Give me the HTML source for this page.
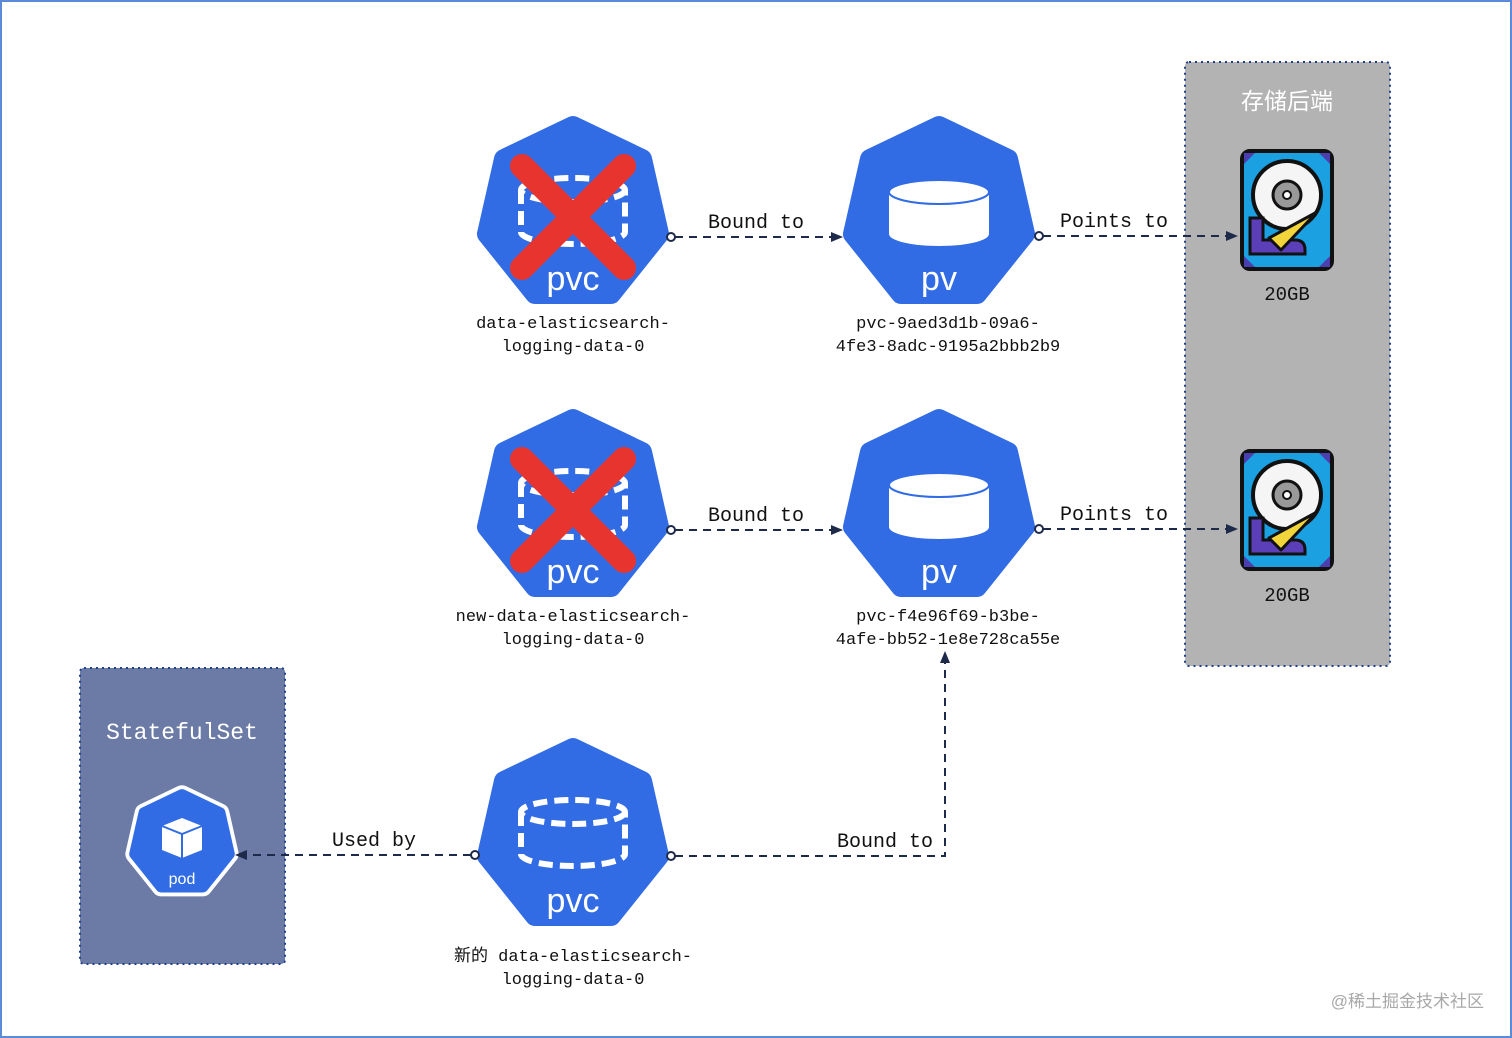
<!DOCTYPE html>
<html><head><meta charset="utf-8"><style>
html,body{margin:0;padding:0;background:#fff;}
svg{display:block}
.m{font-family:"Liberation Mono","Noto Sans CJK SC",monospace;}
.s{font-family:"Liberation Sans","Noto Sans CJK SC",sans-serif;}
</style></head><body>
<svg width="1512" height="1038" viewBox="0 0 1512 1038" xmlns="http://www.w3.org/2000/svg">
<defs>
<polygon id="hep" points="0,-88 69,-55 86,20 38,80 -38,80 -86,20 -69,-55" fill="#326ce5" stroke="#326ce5" stroke-width="20" stroke-linejoin="round"/>
<marker id="ar" markerWidth="12" markerHeight="10" refX="11" refY="5" orient="auto" markerUnits="userSpaceOnUse"><path d="M0,0 L12,5 L0,10 Z" fill="#1e2a4a"/></marker>
<g id="pvicon">
<path d="M-50,-22 L-50,20 A50,12 0 0 0 50,20 L50,-22 Z" fill="#fff"/>
<ellipse cx="0" cy="-22" rx="50" ry="12" fill="#fff" stroke="#326ce5" stroke-width="2"/>
<text x="0" y="76" text-anchor="middle" class="s" style="font-size:34px" fill="#fff">pv</text>
</g>
<g id="pvcicon">
<ellipse cx="0" cy="-24" rx="52" ry="12" fill="none" stroke="#fff" stroke-width="6" stroke-dasharray="14 7"/>
<path d="M-52,-24 L-52,18 A52,12 0 0 0 52,18 L52,-24" fill="none" stroke="#fff" stroke-width="6" stroke-dasharray="14 7"/>
<text x="0" y="76" text-anchor="middle" class="s" style="font-size:34px" fill="#fff">pvc</text>
</g>
<g id="disk">
<rect x="-45" y="-59" width="90" height="118" rx="8" fill="#1ba1e2" stroke="#111" stroke-width="4"/>
<path d="M-43,-57 L-32,-57 L-43,-46Z M43,-57 L32,-57 L43,-46Z M-43,57 L-32,57 L-43,46Z M43,57 L32,57 L43,46Z" fill="#4b3fb0"/>
<circle cx="0" cy="-15" r="34" fill="#f5f5f5" stroke="#111" stroke-width="4"/>
<circle cx="0" cy="-15" r="14" fill="#999" stroke="#111" stroke-width="3"/>
<circle cx="0" cy="-15" r="4" fill="#fff" stroke="#111" stroke-width="2"/>
<path d="M-37,8 L-24,8 L-24,30 L8,30 Q18,30 18,40 L18,44 L-37,44Z" fill="#5b3fb8" stroke="#111" stroke-width="3"/>
<path d="M30,2 L-18,28 L-6,40 Z" fill="#f2d43b" stroke="#111" stroke-width="3" stroke-linejoin="round"/>
</g>
</defs>
<rect x="1" y="1" width="1510" height="1036" fill="#fff" stroke="#5b8bd6" stroke-width="2"/>

<rect x="1185" y="62" width="205" height="604" rx="4" fill="#b3b3b3" stroke="#1f3f8f" stroke-width="2" stroke-dasharray="2 4"/>
<text x="1287" y="109" text-anchor="middle" class="s" style="font-size:23px" fill="#fff">存储后端</text>
<use href="#disk" x="1287" y="210"/>
<use href="#disk" x="1287" y="510"/>
<text x="1287" y="300" text-anchor="middle" class="m" style="font-size:19px" fill="#111">20GB</text>
<text x="1287" y="601" text-anchor="middle" class="m" style="font-size:19px" fill="#111">20GB</text>

<rect x="80" y="668" width="205" height="296" rx="4" fill="#6b7ba6" stroke="#1f3f8f" stroke-width="2" stroke-dasharray="2 4"/>
<text x="182" y="739" text-anchor="middle" class="m" style="font-size:23px" fill="#fff">StatefulSet</text>
<g transform="translate(182,843) scale(0.55)"><polygon points="0,-88 69,-55 86,20 38,80 -38,80 -86,20 -69,-55" fill="#fff" stroke="#fff" stroke-width="34" stroke-linejoin="round"/><use href="#hep"/></g>
<path d="M182,818 L202,826 L202,850 L182,858 L162,850 L162,826Z" fill="#fff"/>
<path d="M162,826 L182,834 L202,826 M182,834 L182,858" stroke="#326ce5" stroke-width="2" fill="none"/>
<text x="182" y="884" text-anchor="middle" class="s" style="font-size:16px" fill="#fff">pod</text>

<use href="#hep" x="573" y="214"/><use href="#pvcicon" x="573" y="214"/>
<use href="#hep" x="939" y="214"/><use href="#pvicon" x="939" y="214"/>
<use href="#hep" x="573" y="507"/><use href="#pvcicon" x="573" y="507"/>
<use href="#hep" x="939" y="507"/><use href="#pvicon" x="939" y="507"/>
<use href="#hep" x="573" y="836"/><use href="#pvcicon" x="573" y="836"/>

<g stroke="#e8342f" stroke-width="24" stroke-linecap="round">
<line x1="522" y1="166" x2="624" y2="268"/><line x1="624" y1="166" x2="522" y2="268"/>
<line x1="522" y1="459" x2="624" y2="561"/><line x1="624" y1="459" x2="522" y2="561"/>
</g>

<g class="m" text-anchor="middle" fill="#111" style="font-size:17px">
<text x="573" y="328">data-elasticsearch-</text><text x="573" y="351">logging-data-0</text>
<text x="948" y="328">pvc-9aed3d1b-09a6-</text><text x="948" y="351">4fe3-8adc-9195a2bbb2b9</text>
<text x="573" y="621">new-data-elasticsearch-</text><text x="573" y="644">logging-data-0</text>
<text x="948" y="621">pvc-f4e96f69-b3be-</text><text x="948" y="644">4afe-bb52-1e8e728ca55e</text>
<text x="573" y="961">新的 data-elasticsearch-</text><text x="573" y="984">logging-data-0</text>
</g>

<g stroke="#1e2a4a" stroke-width="2" stroke-dasharray="8 6" fill="none">
<path d="M675,237 L842,237" marker-end="url(#ar)"/>
<path d="M1043,236 L1237,236" marker-end="url(#ar)"/>
<path d="M675,530 L842,530" marker-end="url(#ar)"/>
<path d="M1043,529 L1237,529" marker-end="url(#ar)"/>
<path d="M675,856 L945,856 L945,652" marker-end="url(#ar)"/>
<path d="M471,855 L236,855" marker-end="url(#ar)"/>
</g>
<g fill="#fff" stroke="#1e2a4a" stroke-width="2">
<circle cx="671" cy="237" r="4"/><circle cx="1039" cy="236" r="4"/>
<circle cx="671" cy="530" r="4"/><circle cx="1039" cy="529" r="4"/>
<circle cx="671" cy="856" r="4"/><circle cx="475" cy="855" r="4"/>
</g>
<g class="m" text-anchor="middle" fill="#111" style="font-size:20px">
<text x="756" y="228">Bound to</text>
<text x="1114" y="227">Points to</text>
<text x="756" y="521">Bound to</text>
<text x="1114" y="520">Points to</text>
<text x="885" y="847">Bound to</text>
<text x="374" y="846">Used by</text>
</g>

<text x="1484" y="1007" text-anchor="end" class="s" style="font-size:17px" fill="#a8a8a8">@稀土掘金技术社区</text>
</svg>
</body></html>
